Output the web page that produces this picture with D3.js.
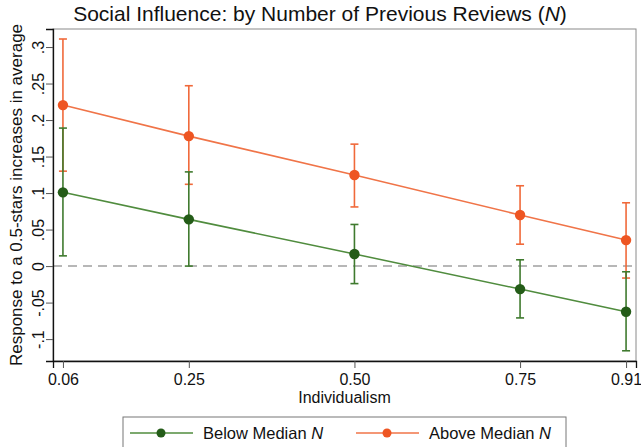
<!DOCTYPE html>
<html>
<head>
<meta charset="utf-8">
<script src="https://cdn.jsdelivr.net/npm/d3@7"></script>
<style>
  body { margin: 0; background: #fff; }
  text { font-family: "Liberation Sans", Arial, Helvetica, sans-serif; fill: #111; }
</style>
</head>
<body>
<div id="chart"></div>
<script>
var xValues = [0.06, 0.25, 0.50, 0.75, 0.91];
var xTickLabels = ["0.06", "0.25", "0.50", "0.75", "0.91"];
var yTicks = [-0.1, -0.05, 0, 0.05, 0.1, 0.15, 0.2, 0.25, 0.3];
var yTickLabels = ["-.1", "-.05", "0", ".05", ".1", ".15", ".2", ".25", ".3"];

var belowMean = [0.101, 0.064, 0.0165, -0.0315, -0.0626];
var belowLow  = [0.014, 0.000, -0.024, -0.071, -0.116];
var belowHigh = [0.189, 0.129, 0.057, 0.0086, -0.0078];

var aboveMean = [0.2205, 0.178, 0.1247, 0.070, 0.0356];
var aboveLow  = [0.130, 0.112, 0.081, 0.030, -0.0164];
var aboveHigh = [0.311, 0.247, 0.167, 0.110, 0.0867];

var seriesNames = ["Below Median", "Above Median"];

var W = 641, H = 447;
var margin = {top: 29, right: 5, bottom: 86, left: 53},
    width = W - margin.left - margin.right,
    height = H - margin.top - margin.bottom;

var svg = d3.select("#chart").append("svg")
    .attr("width", W).attr("height", H);

var canvas = svg.append("g")
    .attr("transform", "translate(" + margin.left + "," + margin.top + ")");

var x = d3.scaleLinear().domain([0.045, 0.925]).range([0, width]);
var y = d3.scaleLinear().domain([-0.130, 0.3247]).range([height, 0]);

// frame (top/right light)
canvas.append("rect")
    .attr("x", 0).attr("y", 0).attr("width", width).attr("height", height)
    .attr("fill", "none").attr("stroke", "#8a8a8a").attr("stroke-width", 1);

// zero line
canvas.append("line")
    .attr("x1", 0).attr("x2", width)
    .attr("y1", y(0)).attr("y2", y(0))
    .attr("stroke", "#a0a0a0").attr("stroke-width", 1.5)
    .attr("stroke-dasharray", "9,6");

// axes
var yAxis = canvas.append("g")
    .call(d3.axisLeft(y).tickValues(yTicks).tickSize(7).tickFormat((d, i) => yTickLabels[i]));
yAxis.select(".domain").attr("stroke", "#111").attr("stroke-width", 1.3);
yAxis.selectAll(".tick line").attr("stroke", "#555");
yAxis.selectAll(".tick text")
    .attr("font-size", 16)
    .attr("x", 0).attr("dy", 0)
    .attr("text-anchor", "middle")
    .attr("transform", "translate(-9.5,0) rotate(-90)");

var xAxis = canvas.append("g")
    .attr("transform", "translate(0," + height + ")")
    .call(d3.axisBottom(x).tickValues(xValues).tickSize(7).tickFormat((d, i) => xTickLabels[i]));
xAxis.select(".domain").attr("stroke", "#111").attr("stroke-width", 1.3);
xAxis.selectAll(".tick line").attr("stroke", "#555");
xAxis.selectAll(".tick text").attr("font-size", 16).attr("dy", 0).attr("y", 24);

// titles
svg.append("text")
    .attr("x", 320).attr("y", 21)
    .attr("text-anchor", "middle").attr("font-size", 21)
    .html('Social Influence: by Number of Previous Reviews (<tspan font-style="italic">N</tspan>)');

svg.append("text")
    .attr("x", margin.left + width / 2).attr("y", 403)
    .attr("text-anchor", "middle").attr("font-size", 16)
    .text("Individualism");

svg.append("text")
    .attr("transform", "translate(21.5," + (margin.top + height / 2) + ") rotate(-90)")
    .attr("text-anchor", "middle").attr("font-size", 17)
    .text("Response to a 0.5-stars increases in average");

// series
var series = [
  {name: seriesNames[1], mean: aboveMean, low: aboveLow, high: aboveHigh,
   line: "#f07448", bar: "#f0693a", dot: "#ee5522"},
  {name: seriesNames[0], mean: belowMean, low: belowLow, high: belowHigh,
   line: "#508c3e", bar: "#3f7a2e", dot: "#245c18"}
];

var line = d3.line().x((d, i) => x(xValues[i])).y(d => y(d));

series.forEach(function(s) {
  var g = canvas.append("g");
  g.selectAll(".bar").data(xValues).enter().append("line")
      .attr("x1", d => x(d)).attr("x2", d => x(d))
      .attr("y1", (d, i) => y(s.low[i])).attr("y2", (d, i) => y(s.high[i]))
      .attr("stroke", s.bar).attr("stroke-width", 1.6);
  [s.low, s.high].forEach(function(arr) {
    g.selectAll(null).data(xValues).enter().append("line")
        .attr("x1", d => x(d) - 4).attr("x2", d => x(d) + 4)
        .attr("y1", (d, i) => y(arr[i])).attr("y2", (d, i) => y(arr[i]))
        .attr("stroke", s.bar).attr("stroke-width", 1.6);
  });
  g.append("path").datum(s.mean)
      .attr("d", line).attr("fill", "none")
      .attr("stroke", s.line).attr("stroke-width", 1.6);
  g.selectAll("circle").data(s.mean).enter().append("circle")
      .attr("cx", (d, i) => x(xValues[i])).attr("cy", d => y(d))
      .attr("r", 5.2).attr("fill", s.dot);
});

// legend
var leg = svg.append("g");
leg.append("rect")
    .attr("x", 123).attr("y", 417).attr("width", 443).attr("height", 40)
    .attr("fill", "#fff").attr("stroke", "#777").attr("stroke-width", 1);

var legItems = [
  {name: seriesNames[0], line: "#508c3e", dot: "#245c18", x0: 130},
  {name: seriesNames[1], line: "#f07448", dot: "#ee5522", x0: 356}
];
legItems.forEach(function(it) {
  leg.append("line")
      .attr("x1", it.x0).attr("x2", it.x0 + 63)
      .attr("y1", 433).attr("y2", 433)
      .attr("stroke", it.line).attr("stroke-width", 1.6);
  leg.append("circle")
      .attr("cx", it.x0 + 31).attr("cy", 433).attr("r", 4.5).attr("fill", it.dot);
  leg.append("text")
      .attr("x", it.x0 + 73).attr("y", 438.5)
      .attr("font-size", 16.5)
      .html(it.name + ' <tspan font-style="italic">N</tspan>');
});
</script>
</body>
</html>
